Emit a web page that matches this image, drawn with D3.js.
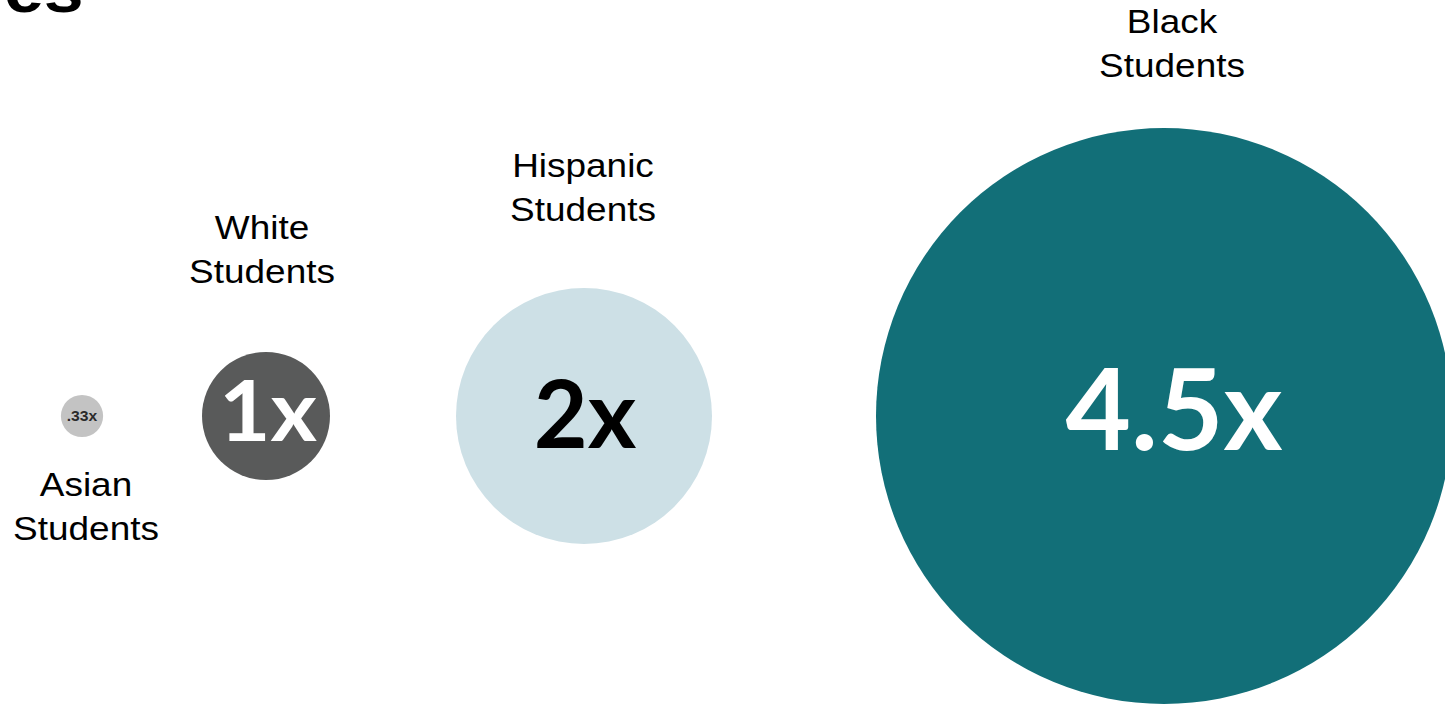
<!DOCTYPE html>
<html>
<head>
<meta charset="utf-8">
<script src="https://cdn.jsdelivr.net/npm/d3@7"></script>
<style>
  html, body { margin: 0; padding: 0; background: #ffffff; }
  svg { display: block; }
</style>
</head>
<body>
<svg id="chart" width="1445" height="706"></svg>
<script>
// Relative rate by student group (White students = 1x)
const groups = ["Asian", "White", "Hispanic", "Black"];
const ratios = [0.33, 1, 2, 4.5];
const ratioLabels = [".33x", "1x", "2x", "4.5x"];
const groupLabels = ["Asian Students", "White Students", "Hispanic Students", "Black Students"];

// Styling per group
const fills = ["#c3c3c3", "#595a5a", "#cde0e6", "#126f78"];
const textFills = ["#2a2a2a", "#ffffff", "#000000", "#ffffff"];

const svg = d3.select("#chart");
const cy = 416;
const stretch = 1.12; // horizontal stretch of the sans-serif labels

// Bubble radius is proportional to the rate
const r = d3.scaleLinear().domain([0, 1]).range([0, 64]);

// Horizontal placement of each bubble
const x = d3.scaleOrdinal().domain(groups).range([82, 266, 584, 1164]);

// Title fragment at the top edge
svg.append("text")
  .attr("transform", `translate(4,12) scale(${stretch},1)`)
  .attr("font-family", "'Liberation Sans', Arial, sans-serif")
  .attr("font-weight", "bold")
  .attr("font-size", 64)
  .attr("fill", "#000")
  .text("es");

const data = groups.map((g, i) => ({
  group: g,
  ratio: ratios[i],
  label: ratioLabels[i],
  name: groupLabels[i],
  fill: fills[i],
  textFill: textFills[i],
  i
}));

const node = svg.selectAll("g.bubble")
  .data(data)
  .join("g")
  .attr("class", "bubble");

node.append("circle")
  .attr("cx", d => x(d.group))
  .attr("cy", cy)
  .attr("r", d => r(d.ratio))
  .attr("fill", d => d.fill);

// Value inside each bubble
const valueFont = [14, 84, 93, 113];
const valueDx = [0, 2, 1, 10];
const valueBaseline = [421, 441, 448, 450];
const valueStretch = [stretch, 1.06, 1, 1];
node.append("text")
  .attr("transform", d => `translate(${x(d.group) + valueDx[d.i]},${valueBaseline[d.i]}) scale(${valueStretch[d.i]},1)`)
  .attr("text-anchor", "middle")
  .attr("font-family", d => d.i === 0 ? "'Liberation Sans', Arial, sans-serif" : "Lato, sans-serif")
  .attr("font-weight", "bold")
  .attr("font-size", d => valueFont[d.i])
  .attr("fill", d => d.textFill)
  .text(d => d.label);

// Two-line group names: below the smallest bubble, above the others
const nameDx = [4, -4, -1, 8];
const nameBaseline = [496, 239, 177, 33];
const nameText = node.append("text")
  .attr("transform", d => `translate(${x(d.group) + nameDx[d.i]},${nameBaseline[d.i]}) scale(${stretch},1)`)
  .attr("text-anchor", "middle")
  .attr("font-family", "'Liberation Sans', Arial, sans-serif")
  .attr("font-size", 33)
  .attr("fill", "#000");

nameText.selectAll("tspan")
  .data(d => d.name.split(" ").map((w, k) => ({ w, k })))
  .join("tspan")
  .attr("x", 0)
  .attr("y", t => t.k * 44)
  .text(t => t.w);
</script>
</body>
</html>
